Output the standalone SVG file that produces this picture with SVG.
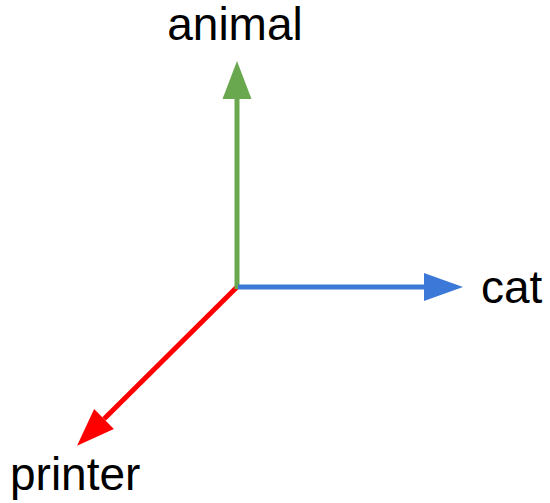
<svg xmlns="http://www.w3.org/2000/svg" width="550" height="503" viewBox="0 0 550 503">
  <style>
    .axis { fill: none; stroke-width: 5; }
    .label { font-family: "Liberation Sans", Arial, sans-serif; font-size: 46px; fill: #000; }
  </style>
  <defs>
    <marker id="head-green" markerUnits="userSpaceOnUse" orient="auto" refX="0" refY="0" markerWidth="40" markerHeight="30" overflow="visible">
      <path d="M0,-14.5 L38,0 L0,14.5 Z" fill="#6aa84f"/>
    </marker>
    <marker id="head-blue" markerUnits="userSpaceOnUse" orient="auto" refX="0" refY="0" markerWidth="40" markerHeight="30" overflow="visible">
      <path d="M0,-14 L39,0 L0,14 Z" fill="#3c78d8"/>
    </marker>
    <marker id="head-red" markerUnits="userSpaceOnUse" orient="auto" refX="0" refY="0" markerWidth="40" markerHeight="30" overflow="visible">
      <path d="M0,-14 L38,0 L0,14 Z" fill="#ff0000"/>
    </marker>
  </defs>

  <g id="connectors">
    <line class="axis" x1="237" y1="287" x2="104" y2="419" stroke="#ff0000" marker-end="url(#head-red)"/>
    <line class="axis" x1="237" y1="289" x2="237" y2="99" stroke="#6aa84f" marker-end="url(#head-green)"/>
    <line class="axis" x1="238" y1="287" x2="424" y2="287" stroke="#3c78d8" marker-end="url(#head-blue)"/>
  </g>

  <g id="animal">
    <text class="label" x="235" y="40" text-anchor="middle">animal</text>
  </g>
  <g id="cat">
    <text class="label" x="481" y="303">cat</text>
  </g>
  <g id="printer">
    <text class="label" x="10" y="490">printer</text>
  </g>
</svg>
